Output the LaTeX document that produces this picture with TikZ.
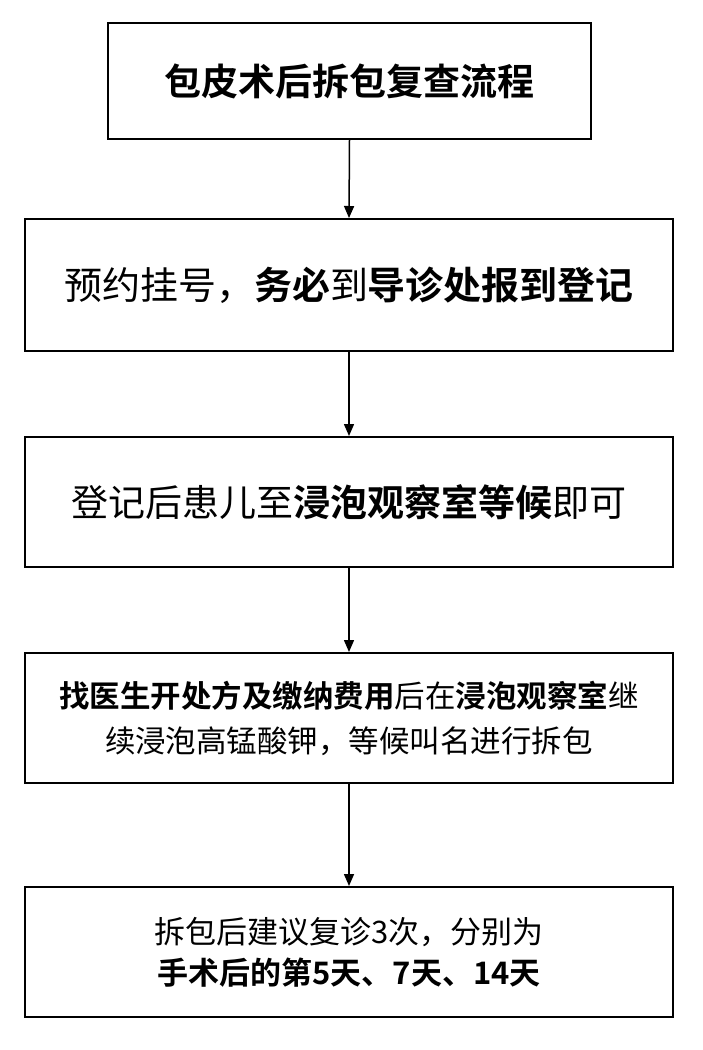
\documentclass[tikz,border=0pt]{standalone}
\usepackage{fontspec}
\setmainfont{Noto Sans CJK SC}[BoldFont={Noto Sans CJK SC Bold}]
\usetikzlibrary{arrows.meta}
\begin{document}
\begin{tikzpicture}[x=1pt,y=-1pt,
  box/.style={draw=black,line width=2pt,anchor=north west,inner sep=0pt,align=center},
  arr/.style={-{Triangle[length=12pt,width=10pt]},line width=1.5pt}]
\useasboundingbox (0,0) rectangle (702,1050);
\node[box,minimum width=483pt,minimum height=116pt,font=\fontsize{37}{44}\selectfont\bfseries] (b1) at (107,22) {包皮术后拆包复查流程};
\node[box,minimum width=648pt,minimum height=132pt,font=\fontsize{38}{44}\selectfont] (b2) at (24,218) {预约挂号，\textbf{务必}到\textbf{导诊处报到登记}};
\node[box,minimum width=648pt,minimum height=130pt,font=\fontsize{37}{44}\selectfont] (b3) at (24,436) {登记后患儿至\textbf{浸泡观察室等候}即可};
\node[box,minimum width=648pt,minimum height=130pt,font=\fontsize{30.5}{45}\selectfont] (b4) at (24,652) {\textbf{找医生开处方及缴纳费用}后在\textbf{浸泡观察室}继\\续浸泡高锰酸钾，等候叫名进行拆包};
\node[box,minimum width=648pt,minimum height=130pt,font=\fontsize{31}{41}\selectfont] (b5) at (24,886) {拆包后建议复诊3次，分别为\\\textbf{手术后的第5天、7天、14天}};
\draw[arr] (b1.south) -- (b2.north);
\draw[arr] (b2.south) -- (b3.north);
\draw[arr] (b3.south) -- (b4.north);
\draw[arr] (b4.south) -- (b5.north);
\end{tikzpicture}
\end{document}
